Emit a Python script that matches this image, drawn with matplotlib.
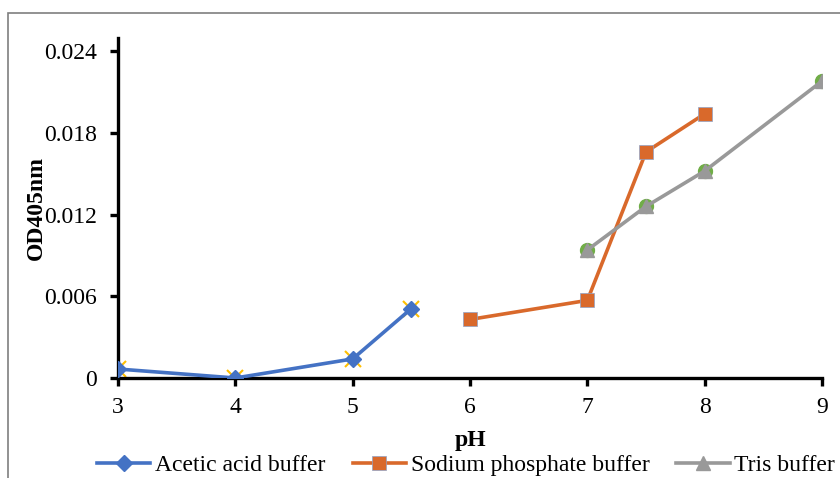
import matplotlib.pyplot as plt
from matplotlib.patches import Rectangle

plt.rcParams['font.family'] = ['Liberation Serif', 'DejaVu Serif']

# data
acetic_ph = [3, 4, 5, 5.5]
acetic_od = [0.00066, 0.0, 0.0014, 0.0051]
phosphate_ph = [6, 7, 7.5, 8]
phosphate_od = [0.0043, 0.0057, 0.0166, 0.0194]
tris_ph = [7, 7.5, 8, 9]
tris_od = [0.0094, 0.0126, 0.0152, 0.0218]
y_ticks = [0, 0.006, 0.012, 0.018, 0.024]
y_tick_labels = ['0', '0.006', '0.012', '0.018', '0.024']

fig = plt.figure(figsize=(8.4, 4.78), dpi=100)
ax = fig.add_axes([0.1405, 0.2092, 0.8381, 0.7123])

# markers sitting behind the main series
ax.plot(acetic_ph, acetic_od, linestyle='none', marker='x', color='#FFC000',
        markersize=11, markeredgewidth=1.5, zorder=2)
ax.plot(tris_ph, tris_od, linestyle='none', marker='o', color='#70AD47',
        markersize=10, zorder=2)

ax.plot(acetic_ph, acetic_od, color='#4472C4', lw=2.6, marker='D', markersize=8,
        label='Acetic acid buffer', zorder=3)
ax.plot(phosphate_ph, phosphate_od, color='#D9692B', lw=2.6, marker='s', markersize=10,
        markeredgecolor='#8FA3C8', markeredgewidth=0.5,
        label='Sodium phosphate buffer', zorder=3)
ax.plot(tris_ph, tris_od, color='#999999', lw=2.6, marker='^', markersize=10,
        label='Tris buffer', zorder=4)

ax.set_xlim(3, 9)
ax.set_ylim(0, 0.025)
ax.set_yticks(y_ticks)
ax.set_yticklabels(y_tick_labels)
ax.set_xticks(range(3, 10))

for s in ['top', 'right']:
    ax.spines[s].set_visible(False)
for s in ['left', 'bottom']:
    ax.spines[s].set_linewidth(2.4)
    ax.spines[s].set_color('black')
ax.tick_params(axis='both', direction='out', length=6, width=2.4, labelsize=17)
ax.tick_params(axis='x', pad=8)
ax.tick_params(axis='y', pad=9)

ax.set_xlabel('pH', fontsize=17, fontweight='bold', labelpad=8)
ax.set_ylabel('OD405nm', fontsize=17, fontweight='bold', labelpad=-2)

fig.legend(loc='lower center', bbox_to_anchor=(0.555, -0.04), ncol=3, frameon=False,
           fontsize=17, handlelength=2.25, columnspacing=1.15, handletextpad=0.2)

# outer chart frame
fig.patches.append(Rectangle((8 / 840, -0.05), 1.0, 1 - 13 / 478 + 0.05,
                             transform=fig.transFigure, fill=False,
                             edgecolor='#7F7F7F', lw=1.2))

fig.savefig('out.png', dpi=100)
